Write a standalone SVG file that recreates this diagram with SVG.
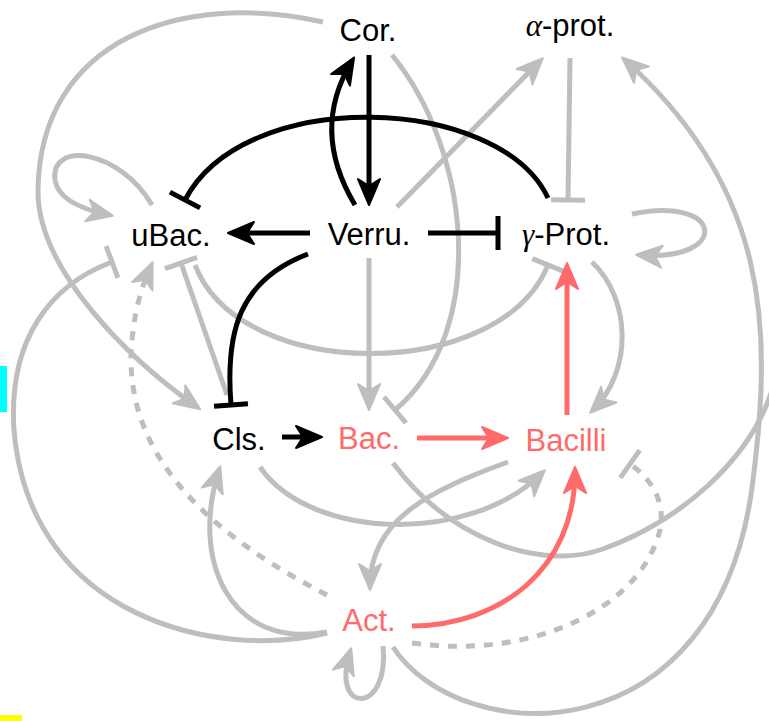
<svg xmlns="http://www.w3.org/2000/svg" width="769" height="721" viewBox="0 0 769 721">
<style>
.e{fill:none;stroke-width:5;stroke-linecap:butt}
.g{stroke:#bebebe}
.k{stroke:#000}
.r{stroke:#ff6a6a}
.d{stroke-dasharray:9 9}
text{font-family:"Liberation Sans",Arial,sans-serif;font-size:31px;text-anchor:middle}
.rt{fill:#ff6a6a}
.bt{fill:#000}
</style>
<defs>
<marker id="ag" markerUnits="userSpaceOnUse" viewBox="-30 -15 40 30" markerWidth="40" markerHeight="30" refX="0" refY="0" orient="auto" overflow="visible"><path d="M4,0 L-22,-11 L-15,0 L-22,11 Z" fill="#bebebe" stroke="#bebebe" stroke-width="2" stroke-linejoin="round"/></marker>
<marker id="ak" markerUnits="userSpaceOnUse" viewBox="-30 -15 40 30" markerWidth="40" markerHeight="30" refX="0" refY="0" orient="auto" overflow="visible"><path d="M4,0 L-22,-11 L-15,0 L-22,11 Z" fill="#000" stroke="#000" stroke-width="2" stroke-linejoin="round"/></marker>
<marker id="ar" markerUnits="userSpaceOnUse" viewBox="-30 -15 40 30" markerWidth="40" markerHeight="30" refX="0" refY="0" orient="auto" overflow="visible"><path d="M4,0 L-22,-11 L-15,0 L-22,11 Z" fill="#ff6a6a" stroke="#ff6a6a" stroke-width="2" stroke-linejoin="round"/></marker>
<marker id="bg" markerUnits="userSpaceOnUse" viewBox="-5 -20 10 40" markerWidth="10" markerHeight="40" refX="0" refY="0" orient="auto" overflow="visible"><path d="M0,-17 L0,17" stroke="#bebebe" stroke-width="5"/></marker>
<marker id="bk" markerUnits="userSpaceOnUse" viewBox="-5 -20 10 40" markerWidth="10" markerHeight="40" refX="0" refY="0" orient="auto" overflow="visible"><path d="M0,-17 L0,17" stroke="#000" stroke-width="5"/></marker>
</defs>
<g id="connectors">
<path class="e g" marker-end="url(#ag)" d="M323,22 C 180,-10 40,40 38,190 C 37,270 130,360 197,407"/>
<path class="e g" marker-end="url(#ag)" d="M152,205 C 120,150 50,140 55,180 C 58,200 85,210 109,215"/>
<path class="e g" marker-end="url(#bg)" d="M327,633 C 220,660 30,620 14,430 C 8,340 50,285 112,262"/>
<path class="e g d" marker-end="url(#ag)" d="M327,595 C 220,540 120,460 132,340 C 136,300 145,280 151,266"/>
<path class="e g" marker-end="url(#bg)" d="M227,395 L181,263"/>
<path class="e g" marker-end="url(#bg)" d="M195,265 C 240,383 500,383 548,265"/>
<path class="e g" marker-end="url(#ag)" d="M632,214 C 725,195 730,262 640,255"/>
<path class="e g" marker-end="url(#bg)" d="M570,58 L568,200"/>
<path class="e g" marker-end="url(#ag)" d="M397,207 L540,61"/>
<path class="e g" marker-end="url(#bg)" d="M392,55 C 470,150 490,330 395,410"/>
<path class="e g" marker-end="url(#ag)" d="M369,258 L369,406"/>
<path class="e g" marker-end="url(#ag)" d="M592,262 C 632,300 632,372 593,410"/>
<path class="e g" marker-end="url(#ag)" d="M260,467 C 310,540 470,545 542,473"/>
<path class="e g" marker-end="url(#ag)" d="M508,462 C 430,490 370,520 370,586"/>
<path class="e g" d="M393,463 C 450,540 540,570 600,550 C 680,522 750,460 772,390"/>
<path class="e g" marker-end="url(#ag)" d="M393,647 C 460,750 720,760 753,480 C 772,330 770,190 625,60"/>
<path class="e g" marker-end="url(#ag)" d="M383,646 C 390,715 330,715 350,652"/>
<path class="e g" marker-end="url(#ag)" d="M327,632 C 230,650 190,560 219,470"/>
<path class="e g d" marker-end="url(#bg)" d="M412,643 C 530,660 640,610 660,530 C 666,500 650,478 630,464"/>
<path class="e k" marker-end="url(#ak)" d="M369,55 L369,201"/>
<path class="e k" marker-end="url(#ak)" d="M355,205 Q310,130 352,61"/>
<path class="e k" marker-end="url(#ak)" d="M310,233 L232,233"/>
<path class="e k" marker-end="url(#bk)" d="M428,233 L498,233"/>
<path class="e k" marker-end="url(#bk)" d="M548,198 C 500,95 245,85 185,200"/>
<path class="e k" marker-end="url(#bk)" d="M308,254 C 240,280 225,330 231,405"/>
<path class="e k" marker-end="url(#ak)" d="M282,437 L318,437"/>
<path class="e r" marker-end="url(#ar)" d="M417,438 L504,438"/>
<path class="e r" marker-end="url(#ar)" d="M567,415 L567,267"/>
<path class="e r" marker-end="url(#ar)" d="M412,626 C 500,625 575,570 575,471"/>
</g>
<g id="cor"><text class="bt" x="368" y="41">Cor.</text></g>
<g id="aprot"><text class="bt" x="570" y="36"><tspan font-family="Liberation Serif" font-style="italic">α</tspan>-prot.</text></g>
<g id="ubac"><text class="bt" x="171" y="246">uBac.</text></g>
<g id="verru"><text class="bt" x="369" y="245">Verru.</text></g>
<g id="gprot"><text class="bt" x="566" y="245"><tspan font-family="Liberation Serif" font-style="italic">γ</tspan>-Prot.</text></g>
<g id="cls"><text class="bt" x="239" y="450">Cls.</text></g>
<g id="bac"><text class="rt" x="369" y="449">Bac.</text></g>
<g id="bacilli"><text class="rt" x="566" y="451">Bacilli</text></g>
<g id="act"><text class="rt" x="369" y="631">Act.</text></g>
<rect x="0" y="366" width="7" height="46" fill="#00ffff"/>
<rect x="0" y="715" width="22" height="6" fill="#ffff00"/>
</svg>
